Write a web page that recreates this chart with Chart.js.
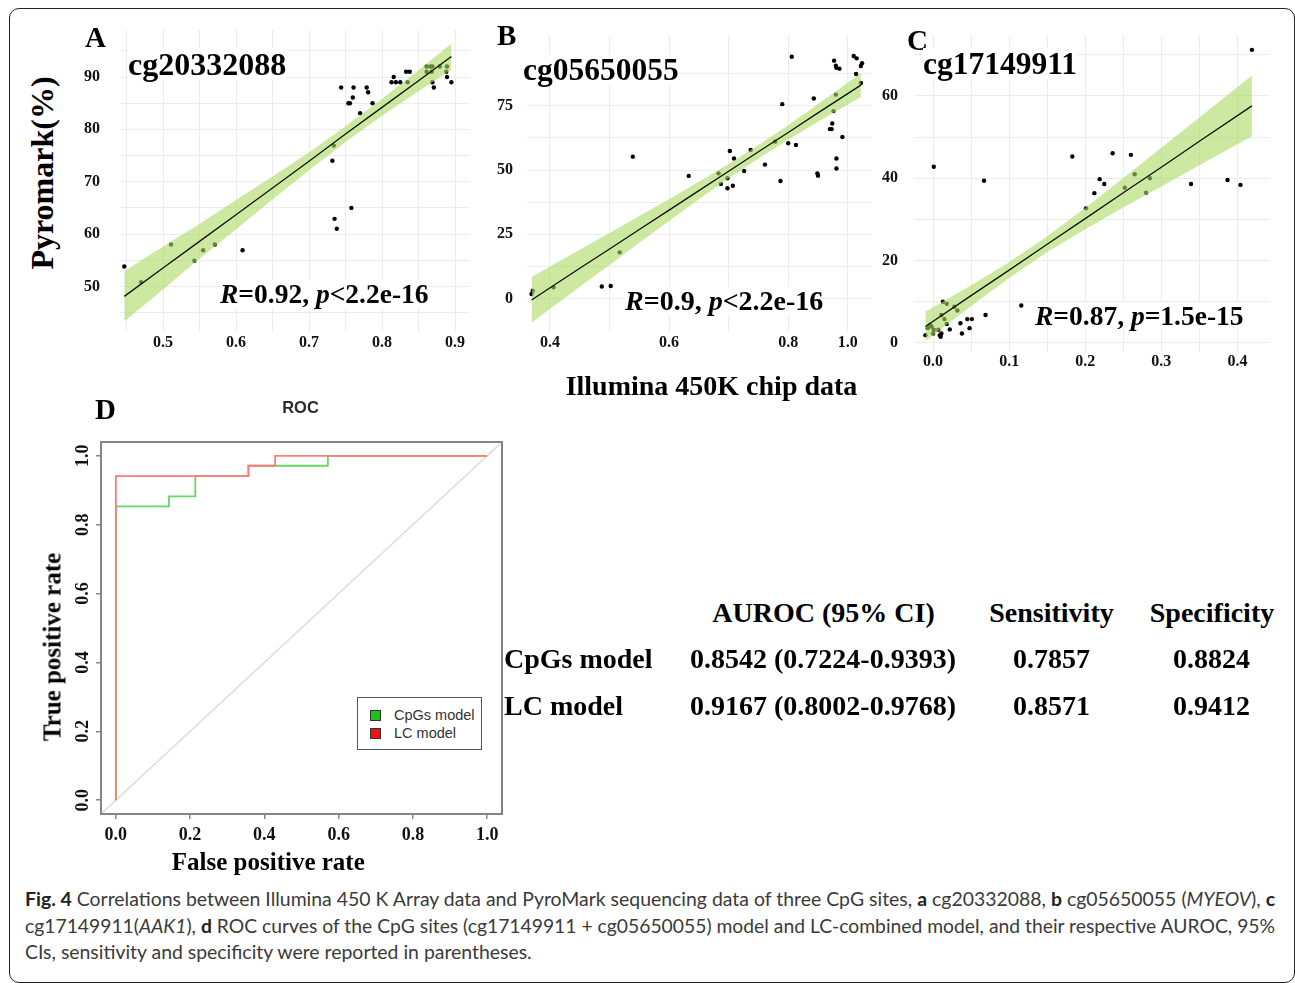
<!DOCTYPE html>
<html><head><meta charset="utf-8">
<script src="https://cdn.jsdelivr.net/npm/chart.js@4.4.0/dist/chart.umd.min.js"></script>
<style>
html,body{margin:0;padding:0;background:#fff;}
body{width:1295px;height:983px;position:relative;overflow:hidden;}
.t{position:absolute;white-space:nowrap;line-height:1;}
.serif{font-family:"Liberation Serif","Times New Roman",serif;font-weight:bold;color:#000;}
canvas{position:absolute;}
#frame{position:absolute;left:9px;top:8px;width:1286px;height:975px;border:1.5px solid #222;border-radius:10px;box-sizing:border-box;}
.cap{position:absolute;left:25px;white-space:nowrap;line-height:1;font-family:Lato,"Open Sans",sans-serif;color:#3a3a3a;transform-origin:0 0;}
.cap b{font-weight:700;color:#222;}
#legend{position:absolute;left:357px;top:697px;width:125px;height:53px;border:1.5px solid #555;box-sizing:border-box;background:#fff;}
.lsq{position:absolute;width:9px;height:9px;border:1px solid #333;}
.ltx{position:absolute;font-family:"Liberation Sans",Arial,sans-serif;font-size:14.5px;color:#333;line-height:1;}
</style></head><body>
<div id="frame"></div>
<canvas id="cA" width="430" height="350" style="left:60px;top:15px"></canvas>
<canvas id="cB" width="420" height="345" style="left:470px;top:20px"></canvas>
<canvas id="cC" width="435" height="360" style="left:855px;top:20px"></canvas>
<canvas id="cD" width="480" height="470" style="left:30px;top:390px"></canvas>
<div id="legend">
  <div class="lsq" style="left:12px;top:12px;background:#19c419"></div>
  <div class="ltx" style="left:36px;top:10px">CpGs model</div>
  <div class="lsq" style="left:12px;top:30px;background:#f01010"></div>
  <div class="ltx" style="left:36px;top:28px">LC model</div>
</div>
<div id="texts"></div>
<div class="cap" id="cap1"><b>Fig. 4</b> Correlations between Illumina 450 K Array data and PyroMark sequencing data of three CpG sites, <b>a</b> cg20332088, <b>b</b> cg05650055 (<i>MYEOV</i>), <b>c</b></div>
<div class="cap" id="cap2">cg17149911(<i>AAK1</i>), <b>d</b> ROC curves of the CpG sites (cg17149911 + cg05650055) model and LC-combined model, and their respective AUROC, 95%</div>
<div class="cap" id="cap3">CIs, sensitivity and specificity were reported in parentheses.</div>
<script>
// ---------------- Panel A : cg20332088 ----------------
const aIllumina = [0.447,0.470,0.511,0.543,0.555,0.571,0.609,0.732,0.734,0.735,0.738,0.758,0.744,0.754,0.756,0.760,0.761,0.770,0.779,0.781,0.787,0.813,0.816,0.819,0.825,0.833,0.838,0.835,0.861,0.866,0.869,0.861,0.868,0.869,0.871,0.879,0.889,0.888,0.889,0.895];
const aPyro = [53.8,50.8,58.0,54.9,56.9,58.0,56.9,74.0,76.9,62.9,61.0,65.0,88.0,85.0,85.0,86.1,88.0,83.1,88.0,87.1,85.0,89.0,90.0,89.0,89.0,91.0,91.0,89.0,92.0,92.0,92.0,91.0,91.0,89.0,88.0,92.0,92.0,91.0,90.0,89.0];
const aFitX = [0.447,0.5,0.55,0.6,0.65,0.7,0.75,0.8,0.85,0.895];
const aFitY = [48.1,53.5,58.6,63.7,68.8,73.9,79.1,84.2,89.3,93.9];
const aLowY = [43.3,49.4,55.3,60.9,66.6,72.2,77.6,82.6,87.3,91.4];
const aHighY = [52.9,57.6,61.9,66.5,71.0,75.6,80.6,85.8,91.3,96.4];
const aXGrid = [0.45,0.5,0.55,0.6,0.65,0.7,0.75,0.8,0.85,0.9];
const aXTickVals = [0.5,0.6,0.7,0.8,0.9];
const aXTickText = ['0.5','0.6','0.7','0.8','0.9'];
const aYGrid = [45,50,55,60,65,70,75,80,85,90,95];
const aYTickVals = [50,60,70,80,90];
const aYTickText = ['50','60','70','80','90'];

// ---------------- Panel B : cg05650055 ----------------
const bIllumina = [0.369,0.371,0.406,0.487,0.502,0.517,0.539,0.633,0.683,0.687,0.698,0.698,0.702,0.707,0.709,0.726,0.737,0.761,0.778,0.787,0.790,0.800,0.806,0.813,0.843,0.849,0.850,0.870,0.873,0.874,0.876,0.877,0.880,0.881,0.886,0.880,0.881,0.881,0.891,0.910,0.915,0.914,0.922,0.924,0.922];
const bPyro = [1.8,3.1,4.4,4.7,4.9,18.0,55.2,47.7,48.7,44.6,46.8,42.9,57.4,43.9,54.5,49.6,57.8,52.1,61.1,45.7,75.6,60.4,94.0,59.7,77.8,48.7,47.8,65.9,65.9,68.1,72.9,92.5,90.5,89.7,89.4,79.3,54.5,50.6,62.8,94.3,93.4,87.3,90.4,91.5,83.8];
const bFitX = [0.369,0.45,0.5,0.55,0.6,0.65,0.7,0.75,0.8,0.85,0.922];
const bFitY = [-0.5,11.8,19.3,26.9,34.4,42.0,49.5,57.1,64.6,72.2,83.0];
const bLowY = [-9.4,4.6,13.1,21.7,30.2,38.6,46.7,54.5,61.8,68.8,78.4];
const bHighY = [8.4,19.0,25.5,32.1,38.6,45.4,52.3,59.7,67.4,75.6,87.6];
const bXGrid = [0.4,0.5,0.6,0.7,0.8,0.9];
const bXTickVals = [0.4,0.6,0.8,0.9];
const bXTickText = ['0.4','0.6','0.8','1.0'];
const bYGrid = [0,12.5,25,37.5,50,62.5,75,87.5];
const bYTickVals = [0,25,50,75];
const bYTickText = ['0','25','50','75'];

// ---------------- Panel C : cg17149911 ----------------
const cIllumina = [-0.010,-0.007,-0.004,-0.002,0.000,0.001,0.007,0.009,0.010,0.011,0.011,0.013,0.015,0.018,0.018,0.022,0.028,0.032,0.036,0.038,0.045,0.048,0.051,0.069,0.001,0.067,0.116,0.183,0.201,0.212,0.219,0.225,0.236,0.252,0.260,0.265,0.280,0.285,0.339,0.387,0.404,0.419];
const cPyro = [1.9,3.6,4.4,4.0,2.3,3.2,3.2,1.9,1.5,2.3,6.8,10.0,5.8,9.5,4.6,3.3,8.8,7.9,4.8,2.3,5.8,3.6,5.8,6.8,42.8,39.4,9.1,45.3,32.7,36.4,39.8,38.6,46.1,37.7,45.7,41.0,36.5,40.0,38.6,39.6,38.4,71.2];
const cFitX = [-0.01,0.05,0.1,0.15,0.2,0.25,0.3,0.35,0.419];
const cFitY = [4.0,11.5,17.7,24.0,30.2,36.5,42.7,49.0,57.6];
const cLowY = [0.4,9.0,15.8,22.1,27.6,32.9,38.0,43.2,50.2];
const cHighY = [7.6,14.0,19.6,25.9,32.8,40.1,47.4,54.8,65.0];
const cXGrid = [0,0.05,0.1,0.15,0.2,0.25,0.3,0.35,0.4];
const cXTickVals = [0,0.1,0.2,0.3,0.4];
const cXTickText = ['0.0','0.1','0.2','0.3','0.4'];
const cYGrid = [0,10,20,30,40,50,60,70];
const cYTickVals = [0,20,40,60];
const cYTickText = ['0','20','40','60'];

// ---------------- Panel D : ROC ----------------
const rocCpgFpr = [0,0,0.143,0.143,0.214,0.214,0.357,0.357,0.571,0.571,1.0];
const rocCpgTpr = [0,0.853,0.853,0.882,0.882,0.941,0.941,0.971,0.971,1.0,1.0];
const rocLcFpr = [0,0,0.357,0.357,0.429,0.429,1.0];
const rocLcTpr = [0,0.941,0.941,0.971,0.971,1.0,1.0];
const rocRefX = [-0.04,1.04];
const rocRefY = [-0.04,1.04];
const rocTickVals = [0,0.2,0.4,0.6,0.8,1.0];
const rocTickText = ['0.0','0.2','0.4','0.6','0.8','1.0'];

// ---------------- Table ----------------
const tableHeader = ['AUROC (95% CI)','Sensitivity','Specificity'];
const tableModels = ['CpGs model','LC model'];
const tableAuroc = ['0.8542 (0.7224-0.9393)','0.9167 (0.8002-0.9768)'];
const tableSens = ['0.7857','0.8571'];
const tableSpec = ['0.8824','0.9412'];

const SERIF = '"Liberation Serif","Times New Roman",serif';
const pts = (xs, ys) => xs.map((x, i) => ({x, y: ys[i]}));
const lbl = (vals, txt) => (v) => { const i = vals.findIndex(t => Math.abs(t - v) < 1e-6); return i >= 0 ? txt[i] : ''; };
const fixTicks = (arr) => (s) => { s.ticks = arr.map(v => ({value: v})); };

function scatterPanel(id, o) {
  const axisCommon = (grid, fitFn, extra) => Object.assign({
    type: 'linear',
    afterBuildTicks: fixTicks(grid),
    grid: {color: '#ececec', lineWidth: 1, drawTicks: false},
    border: {display: false},
    afterFit: fitFn
  }, extra);
  const tf = {family: SERIF, weight: 'bold', size: 16};
  new Chart(document.getElementById(id), {
    type: 'scatter',
    data: {datasets: [
      {data: pts(o.xs, o.ys), pointRadius: 2.2, pointBackgroundColor: '#000', pointBorderWidth: 0, order: 3},
      {data: pts(o.fitX, o.low), showLine: true, borderWidth: 0, borderColor: 'rgba(0,0,0,0)', pointRadius: 0, fill: false, order: 2},
      {data: pts(o.fitX, o.high), showLine: true, borderWidth: 0, borderColor: 'rgba(0,0,0,0)', pointRadius: 0, fill: '-1', backgroundColor: 'rgba(172,217,97,0.6)', order: 2},
      {data: pts(o.fitX, o.fit), showLine: true, borderWidth: 1.3, borderColor: '#111', pointRadius: 0, fill: false, order: 1}
    ]},
    options: {
      responsive: false, animation: false, events: [],
      layout: {padding: o.pad},
      plugins: {legend: {display: false}, tooltip: {enabled: false}},
      scales: {
        x: axisCommon(o.xGrid, s => { s.height = o.xH; s.paddingLeft = s.paddingRight = 0; },
             {min: o.xMin, max: o.xMax, position: 'bottom',
              ticks: {callback: lbl(o.xTickVals, o.xTickText), autoSkip: false, maxRotation: 0, minRotation: 0, padding: o.xPad, color: '#111', font: tf}}),
        y: axisCommon(o.yGrid, s => { s.width = o.yW; s.paddingTop = s.paddingBottom = 0; },
             {min: o.yMin, max: o.yMax, position: 'left',
              ticks: {callback: lbl(o.yTickVals, o.yTickText), autoSkip: false, padding: o.yPad, color: '#111', font: tf}})
      }
    }
  });
}

scatterPanel('cA', {xs: aIllumina, ys: aPyro, fitX: aFitX, fit: aFitY, low: aLowY, high: aHighY,
  xGrid: aXGrid, xTickVals: aXTickVals, xTickText: aXTickText, yGrid: aYGrid, yTickVals: aYTickVals, yTickText: aYTickText,
  xMin: 0.4411, xMax: 0.9205, yMin: 41.29, yMax: 98.98, pad: {left: 0, right: 20, top: 15, bottom: 0}, yW: 60, xH: 33, xPad: 1, yPad: 20});
scatterPanel('cB', {xs: bIllumina, ys: bPyro, fitX: bFitX, fit: bFitY, low: bLowY, high: bHighY,
  xGrid: bXGrid, xTickVals: bXTickVals, xTickText: bXTickText, yGrid: bYGrid, yTickVals: bYTickVals, yTickText: bYTickText,
  xMin: 0.3614, xMax: 0.9407, yMin: -12.96, yMax: 102.47, pad: {left: 0, right: 18, top: 15, bottom: 0}, yW: 57, xH: 33, xPad: 1.5, yPad: 14});
scatterPanel('cC', {xs: cIllumina, ys: cPyro, fitX: cFitX, fit: cFitY, low: cLowY, high: cHighY,
  xGrid: cXGrid, xTickVals: cXTickVals, xTickText: cXTickText, yGrid: cYGrid, yTickVals: cYTickVals, yTickText: cYTickText,
  xMin: -0.025, xMax: 0.4428, yMin: -2.19, yMax: 74.81, pad: {left: 0, right: 20, top: 15, bottom: 0}, yW: 59, xH: 28, xPad: 0.5, yPad: 16});

// ROC chart
const rocFrame = {
  id: 'rocFrame',
  afterDraw(chart) {
    const {ctx, chartArea: a} = chart;
    ctx.save();
    ctx.strokeStyle = '#858585'; ctx.lineWidth = 2;
    ctx.strokeRect(a.left, a.top, a.right - a.left, a.bottom - a.top);
    const ys = chart.scales.y;
    ctx.fillStyle = '#111';
    ctx.font = 'bold 18px ' + SERIF;
    ctx.textAlign = 'center'; ctx.textBaseline = 'middle';
    rocTickVals.forEach((v, i) => {
      ctx.save();
      ctx.translate(53.5, ys.getPixelForValue(v));
      ctx.rotate(-Math.PI / 2);
      ctx.fillText(rocTickText[i], 0, 0);
      ctx.restore();
    });
    ctx.restore();
  }
};
new Chart(document.getElementById('cD'), {
  type: 'scatter',
  data: {datasets: [
    {label: 'ref', data: pts(rocRefX, rocRefY), showLine: true, borderColor: '#dcdcdc', borderWidth: 1.5, pointRadius: 0, order: 3},
    {label: 'CpGs model', data: pts(rocCpgFpr, rocCpgTpr), showLine: true, borderColor: '#66d666', borderWidth: 1.8, pointRadius: 0, order: 2},
    {label: 'LC model', data: pts(rocLcFpr, rocLcTpr), showLine: true, borderColor: '#ff7b7b', borderWidth: 1.8, pointRadius: 0, order: 1}
  ]},
  options: {
    responsive: false, animation: false, events: [],
    layout: {padding: {left: 0, right: 8, top: 52, bottom: 0}},
    plugins: {legend: {display: false}, tooltip: {enabled: false}},
    scales: {
      x: {type: 'linear', min: -0.04, max: 1.04, afterBuildTicks: fixTicks(rocTickVals),
          grid: {drawOnChartArea: false, drawTicks: true, tickLength: 5, color: '#888', lineWidth: 1.5},
          border: {display: false},
          ticks: {callback: lbl(rocTickVals, rocTickText), autoSkip: false, maxRotation: 0, minRotation: 0, padding: 6,
                  color: '#111', font: {family: SERIF, weight: 'bold', size: 18}},
          afterFit: s => { s.height = 46; s.paddingLeft = s.paddingRight = 0; }},
      y: {type: 'linear', min: -0.04, max: 1.04, afterBuildTicks: fixTicks(rocTickVals),
          grid: {drawOnChartArea: false, drawTicks: true, tickLength: 5, color: '#888', lineWidth: 1.5},
          border: {display: false},
          ticks: {callback: lbl(rocTickVals, rocTickText), color: 'rgba(0,0,0,0)', font: {family: SERIF, weight: 'bold', size: 18}},
          afterFit: s => { s.width = 71; s.paddingTop = s.paddingBottom = 0; }}
    }
  },
  plugins: [rocFrame]
});

// ---------------- Text labels ----------------
const host = document.getElementById('texts');
function put(html, x, base, size, opt = {}) {
  const d = document.createElement('div');
  d.className = 't ' + (opt.sans ? '' : 'serif');
  d.innerHTML = html;
  d.style.fontSize = size + 'px';
  const asc = opt.sans ? 0.8465 : 0.8375;
  d.style.top = (base - asc * size) + 'px';
  d.style.left = x + 'px';
  if (opt.center) d.style.transform = 'translateX(-50%)';
  if (opt.bg) d.style.background = '#fff';
  if (opt.sans) { d.style.fontFamily = '"Liberation Sans",Arial,sans-serif'; d.style.fontWeight = 'bold'; d.style.color = '#2a2a2a'; }
  host.appendChild(d);
  return d;
}
function putV(html, cx, cy, size) {
  const d = document.createElement('div');
  d.className = 't serif';
  d.innerHTML = html;
  d.style.fontSize = size + 'px';
  d.style.left = cx + 'px'; d.style.top = cy + 'px';
  d.style.transform = 'translate(-50%,-50%) rotate(-90deg)';
  host.appendChild(d);
}
put('A', 85, 47, 29);
put('cg20332088', 128, 75, 32, {bg: true});
put('<i>R</i>=0.92, <i>p</i>&lt;2.2e-16', 220, 303.5, 27.5, {bg: true});
put('B', 497, 45, 29);
put('cg05650055', 523, 80, 31.5, {bg: true});
put('<i>R</i>=0.9, <i>p</i>&lt;2.2e-16', 625, 310, 28, {bg: true});
put('C', 907, 50, 29);
put('cg17149911', 923, 74, 31.5, {bg: true});
put('<i>R</i>=0.87, <i>p</i>=1.5e-15', 1035, 325, 27.5, {bg: true});
putV('Pyromark(%)', 42, 172.5, 32);
put('Illumina 450K chip data', 711.5, 395, 28, {center: true});
put('D', 95, 419, 29);
put('ROC', 300.5, 413.3, 16.5, {center: true, sans: true});
putV('True positive rate', 52, 647, 25);
put('False positive rate', 268.3, 869.5, 25, {center: true});
// table
put(tableHeader[0], 823.5, 622, 28, {center: true});
put(tableHeader[1], 1051.5, 622, 28, {center: true});
put(tableHeader[2], 1212, 622, 28, {center: true});
[668.5, 715.5].forEach((b, i) => {
  put(tableModels[i], 504, b, 28);
  put(tableAuroc[i], 823, b, 28, {center: true});
  put(tableSens[i], 1051.5, b, 28, {center: true});
  put(tableSpec[i], 1211.5, b, 28, {center: true});
});

// ---------------- Caption ----------------
(function () {
  const c1 = document.getElementById('cap1'), c2 = document.getElementById('cap2'), c3 = document.getElementById('cap3');
  [c1, c2, c3].forEach(e => e.style.fontSize = '20px');
  const w3 = c3.getBoundingClientRect().width;
  const F = 20 * 507 / w3;
  const bases = [906, 933, 959];
  [c1, c2, c3].forEach((e, i) => { e.style.fontSize = F + 'px'; e.style.top = (bases[i] - 0.887 * F) + 'px'; });
  [c1, c2].forEach(e => {
    const w = e.getBoundingClientRect().width;
    const n = (e.textContent.match(/ /g) || []).length;
    if (w < 1250) e.style.wordSpacing = ((1250 - w) / n) + 'px';
    else e.style.transform = 'scaleX(' + (1250 / w) + ')';
  });
})();
</script>
</body></html>
